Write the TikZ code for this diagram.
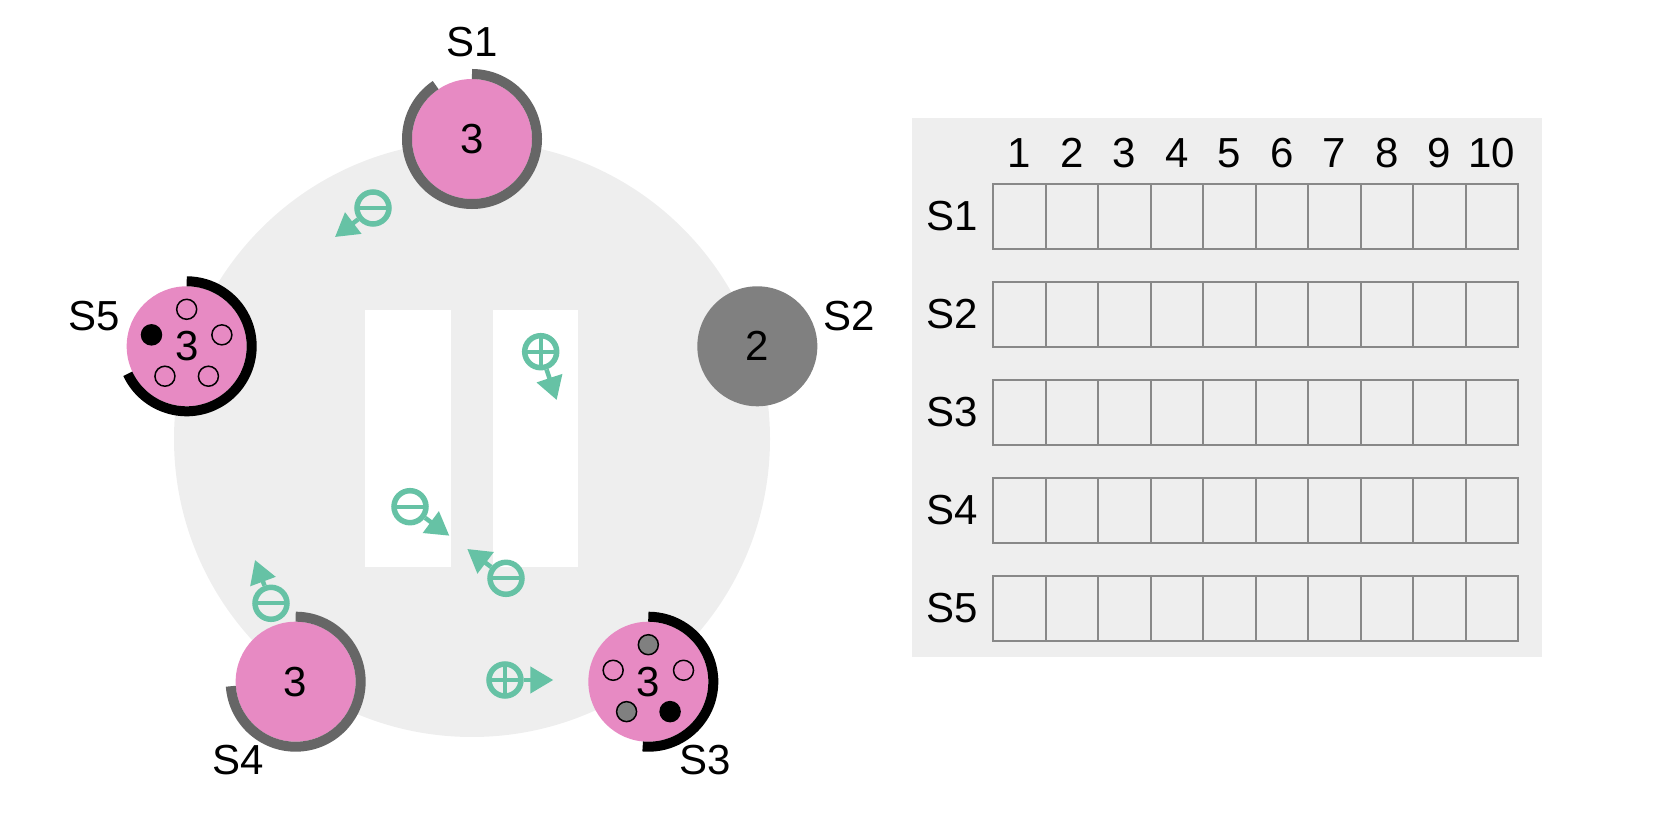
\documentclass[tikz,border=0pt]{standalone}
\usepackage{fontspec}
\setmainfont{Liberation Sans}
\usetikzlibrary{arrows.meta,calc}

\definecolor{ringbg}{HTML}{EEEEEE}
\definecolor{pinkstate}{HTML}{E78AC3}
\definecolor{downgrey}{HTML}{808080}
\definecolor{timergrey}{HTML}{666666}
\definecolor{msggreen}{HTML}{66C2A5}
\definecolor{cellgrey}{HTML}{888888}

\begin{document}
\begin{tikzpicture}[x=1pt, y=1pt, font=\fontsize{42}{50}\selectfont,
    server/.style={circle, fill=pinkstate, minimum size=120pt, inner sep=0pt},
    timer/.style={line width=10pt},
    vote/.style={line width=1.5pt, draw=black},
    msg/.style={circle, draw=msggreen, line width=5.5pt, minimum size=32pt, inner sep=0pt},
    msgminus/.style={path picture={\draw[msggreen, line width=4pt]
      (path picture bounding box.west) -- (path picture bounding box.east);}},
    msgplus/.style={path picture={\draw[msggreen, line width=4pt]
      (path picture bounding box.west) -- (path picture bounding box.east)
      (path picture bounding box.north) -- (path picture bounding box.south);}},
    flow/.style={msggreen, line width=4.5pt, -{Triangle[length=23pt, width=26pt]}},
    cell/.style={draw=cellgrey, line width=2pt}]
  \path[use as bounding box] (0,0) rectangle (1660,814);

  % cluster
  \coordinate (c) at (472,375);
  \fill[ringbg] (c) circle[radius=298];
  \fill[white] (365,247) rectangle (451,504);
  \fill[white] (493,247) rectangle (578,504);

  % servers
  \node[server] (s1) at ($(c)+(90:300)$) {3};
  \node[server, fill=downgrey] (s2) at ($(c)+(18:300)$) {2};
  \node[server] (s3) at ($(c)+(-54:300)$) {3};
  \node[server] (s4) at ($(c)+(-126:300)$) {3};
  \node[server] (s5) at ($(c)+(162:300)$) {3};
  \foreach \n/\a in {1/90,2/18,3/-54,4/-126,5/162}
    \node (l\n) at ($(c)+(\a:397)$) {S\n};

  % election timers
  \draw[timer, timergrey] ($(s1)+(124:65)$) arc[start angle=124, end angle=450, radius=65];
  \draw[timer, black] ($(s3)+(-95:65)$) arc[start angle=-95, end angle=90, radius=65];
  \draw[timer, timergrey] ($(s4)+(-176:65)$) arc[start angle=-176, end angle=90, radius=65];
  \draw[timer, black] ($(s5)+(-155:65)$) arc[start angle=-155, end angle=90, radius=65];

  % votes
  \foreach \k/\f in {0/downgrey,1/none,2/downgrey,3/black,4/none}
    \draw[vote, fill=\f] ($(s3)+(90+72*\k:37)$) circle[radius=10];
  \foreach \k/\f in {0/none,1/black,2/none,3/none,4/none}
    \draw[vote, fill=\f] ($(s5)+(90+72*\k:37)$) circle[radius=10];

  % messages in flight
  \foreach \n/\x/\y/\s/\tx/\ty in {1/373/606/msgminus/335/577,
      2/540.7/462.3/msgplus/556.7/414, 3/410/307.3/msgminus/449.3/278.3,
      4/506/235.7/msgminus/467.3/265, 5/271/210.7/msgminus/255/254,
      6/505/134/msgplus/553.3/134} {
    \node[msg, \s] (m\n) at (\x,\y) {};
    \coordinate (t\n) at (\tx,\ty);
    \draw[flow] (m\n) -- (t\n);
  }

  % log table
  \fill[ringbg] (912,157) rectangle (1542,696);
  \foreach \col in {1,...,10}
    \node (h\col) at (993+52.5*\col-26.25, 661) {\col};
  \foreach \row in {1,...,5} {
    \node (r\row) at (952, 695.5-98*\row) {S\row};
    \foreach \col in {1,...,10}
      \draw[cell] (940.5+52.5*\col, 728-98*\row) rectangle ++(52.5,-65);
  }
\end{tikzpicture}
\end{document}
